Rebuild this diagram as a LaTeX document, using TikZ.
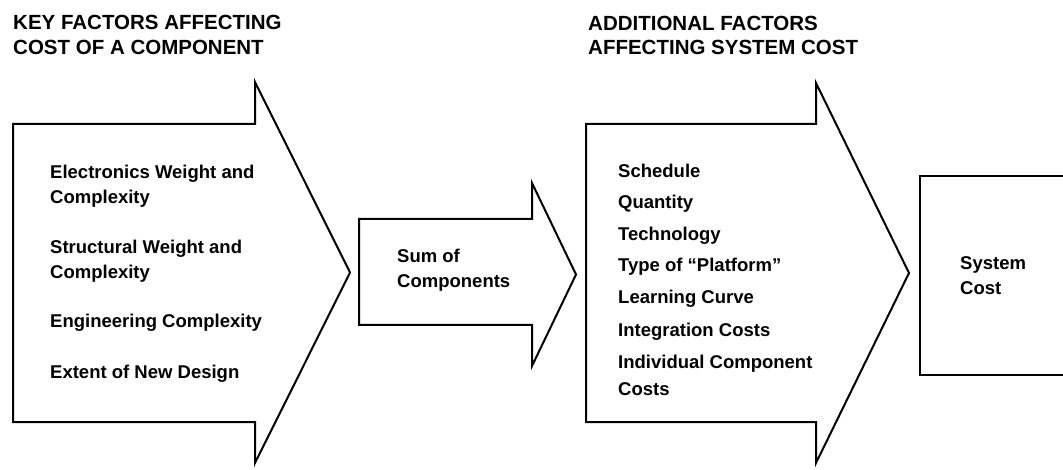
\documentclass[tikz,border=0pt]{standalone}
\usepackage{fontspec}
\setmainfont{Liberation Sans}
\begin{document}
\begin{tikzpicture}[x=1pt,y=-1pt,
  shapeline/.style={draw=black, line width=2pt, line join=miter},
  titletext/.style={anchor=base west, inner sep=0pt, font=\fontsize{20.5}{24}\selectfont\bfseries},
  itemtext/.style={anchor=base west, inner sep=0pt, font=\fontsize{18.5}{22}\selectfont\bfseries}]
\useasboundingbox (0,0) rectangle (1063,470);
\fill[white] (0,0) rectangle (1063,470);
\clip (0,0) rectangle (1063,470);

% titles
\node[titletext] (t1a) at (13,29.5) {KEY FACTORS AFFECTING};
\node[titletext] (t1b) at (13,55) {COST OF A COMPONENT};
\node[titletext] (t2a) at (588,31) {ADDITIONAL FACTORS};
\node[titletext] (t2b) at (588,55) {AFFECTING SYSTEM COST};

% arrow 1
\draw[shapeline] (13,124) -- (255,124) -- (255,82) -- (350,272.5) -- (255,463) -- (255,422) -- (13,422) -- cycle;
\node[itemtext] (a1) at (50,179) {Electronics Weight and};
\node[itemtext] (a1b) at (50,203.5) {Complexity};
\node[itemtext] (a2) at (50,254) {Structural Weight and};
\node[itemtext] (a2b) at (50,278.5) {Complexity};
\node[itemtext] (a3) at (50,328) {Engineering Complexity};
\node[itemtext] (a4) at (50,378) {Extent of New Design};

% arrow 2
\draw[shapeline] (359,219) -- (532,219) -- (532,183) -- (576,274.5) -- (532,366) -- (532,325) -- (359,325) -- cycle;
\node[itemtext] (s1) at (397,263) {Sum of};
\node[itemtext] (s2) at (397,288) {Components};

% arrow 3
\draw[shapeline] (586,124) -- (816,124) -- (816,83) -- (909,273) -- (816,463) -- (816,422) -- (586,422) -- cycle;
\node[itemtext] (b1) at (618,178) {Schedule};
\node[itemtext] (b2) at (618,209) {Quantity};
\node[itemtext] (b3) at (618,240.5) {Technology};
\node[itemtext] (b4) at (618,272) {Type of ``Platform''};
\node[itemtext] (b5) at (618,304) {Learning Curve};
\node[itemtext] (b6) at (618,337) {Integration Costs};
\node[itemtext] (b7) at (618,368) {Individual Component};
\node[itemtext] (b7b) at (618,395) {Costs};

% result box (open to the right)
\draw[shapeline] (1080,176) -- (920,176) -- (920,375) -- (1080,375);
\node[itemtext] (c1) at (960,270) {System};
\node[itemtext] (c2) at (960,295) {Cost};
\end{tikzpicture}
\end{document}
